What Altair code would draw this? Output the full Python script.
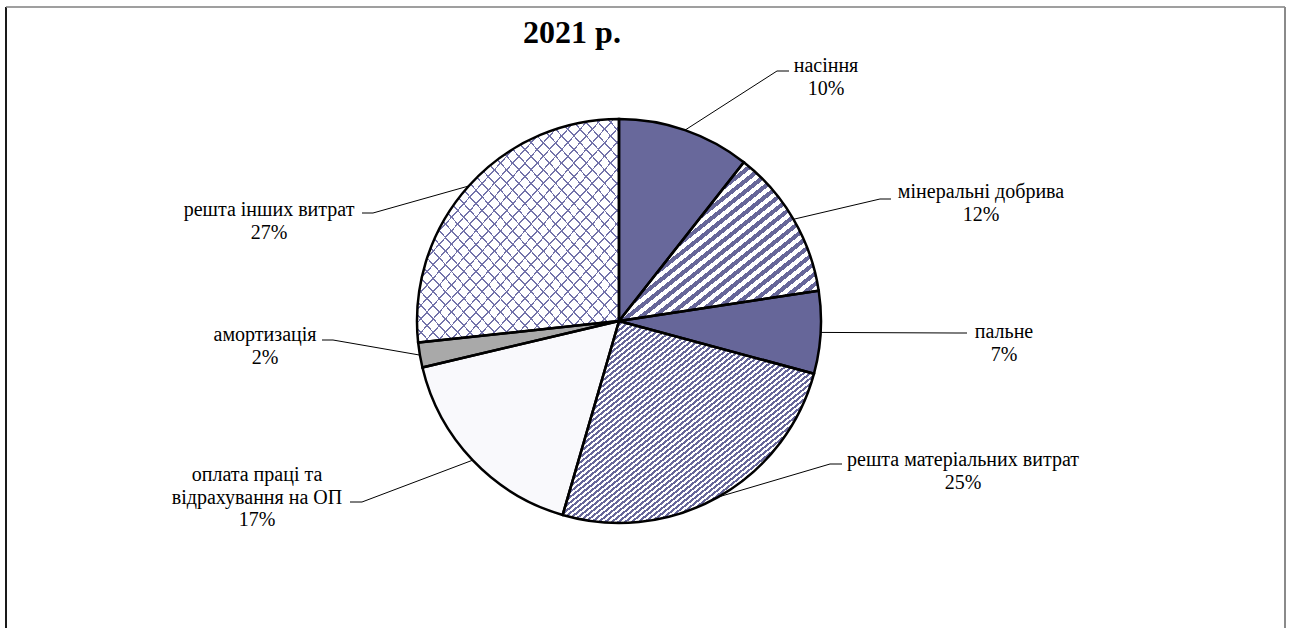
import altair as alt
import pandas as pd

# ---------------- data ----------------
TITLE = "2021 р."
CATS = [
    "насіння",
    "мінеральні добрива",
    "пальне",
    "решта матеріальних витрат",
    "оплата праці та відрахування на ОП",
    "амортизація",
    "решта інших витрат",
]
VALUES = [10.6, 12.0, 6.6, 25.3, 16.8, 2.0, 26.7]
PCT_LABELS = ["10%", "12%", "7%", "25%", "17%", "2%", "27%"]
LABEL_TEXT = [
    "насіння",
    "мінеральні добрива",
    "пальне",
    "решта матеріальних витрат",
    "оплата праці та\nвідрахування на ОП",
    "амортизація",
    "решта інших витрат",
]

# ---------------- layout ----------------
CX, CY, R = 619, 321, 202
LABEL_X = [826, 981, 1004, 963, 257, 265, 269]
LABEL_Y = [66, 192, 332, 460, 475, 335, 210]   # centre of the first text line
ELBOW_X = [777, 880, 955, 830, 362, 333, 373]
ELBOW_Y = [71, 199, 333, 464, 502, 340, 213]
STUB_X = [789, 891, 967, 842, 350, 322, 362]

FONT = "Liberation Serif"
INK = "#666699"


def stripes(n, ink, paper, duty, diag):
    if diag == "/":
        x1, y1, x2, y2 = 0, 0, 1, 1
    else:
        x1, y1, x2, y2 = 0, 1, 1, 0
    stops = []
    for k in range(n):
        a = round(k / n, 6)
        b = round((k + duty) / n, 6)
        c = round((k + 1) / n, 6)
        stops += [
            alt.GradientStop(offset=a, color=ink),
            alt.GradientStop(offset=b, color=ink),
            alt.GradientStop(offset=b, color=paper),
            alt.GradientStop(offset=c, color=paper),
        ]
    return alt.LinearGradient(gradient="linear", stops=stops, x1=x1, y1=y1, x2=x2, y2=y2)


CLEAR = "rgba(255,255,255,0)"
FILLS = [
    "#68689b",
    stripes(30, INK, "white", 0.5, "/"),
    INK,
    stripes(76, INK, "white", 0.5, "/"),
    "#f9f9fc",
    "#a9a9a9",
    stripes(33, "#7373aa", "white", 0.14, "/"),
]
OVERLAY = stripes(33, "#7373aa", CLEAR, 0.14, "\\")

df = pd.DataFrame({
    "cat": CATS,
    "value": VALUES,
    "idx": list(range(len(CATS))),
    "label": [f"{t}\n{p}" for t, p in zip(LABEL_TEXT, PCT_LABELS)],
    "lx": LABEL_X,
    "ly": LABEL_Y,
    "ex": ELBOW_X,
    "ey": ELBOW_Y,
    "sx": STUB_X,
})

base = (
    alt.Chart(df)
    .transform_window(cum="sum(value)", sort=[alt.SortField("idx")], frame=[None, 0])
    .transform_joinaggregate(total="sum(value)")
    .transform_calculate(a0="(datum.cum - datum.value) / datum.total * 2 * PI")
    .transform_calculate(a1="datum.cum / datum.total * 2 * PI")
    .transform_calculate(am="(datum.cum - datum.value / 2) / datum.total * 2 * PI")
    .transform_calculate(px=f"{CX} + {R} * sin(datum.am)")
    .transform_calculate(py=f"{CY} - {R} * cos(datum.am)")
)

arc_enc = dict(
    theta=alt.Theta("a0:Q", scale=None),
    theta2="a1:Q",
    x=alt.value(CX),
    y=alt.value(CY),
)

layers = []
for i in range(len(CATS)):
    layers.append(
        base.transform_filter(alt.datum.idx == i)
        .mark_arc(radius=R, fill=FILLS[i], strokeWidth=0)
        .encode(**arc_enc)
    )
layers.append(
    base.transform_filter(alt.datum.idx == 6)
    .mark_arc(radius=R, fill=OVERLAY, strokeWidth=0)
    .encode(**arc_enc)
)
layers.append(
    base.mark_arc(radius=R, fill="white", fillOpacity=0, stroke="black", strokeWidth=2.5)
    .encode(**arc_enc)
)

leader = base.mark_rule(color="black", strokeWidth=1).encode(
    x=alt.X("px:Q", scale=None, axis=None),
    y=alt.Y("py:Q", scale=None, axis=None),
    x2="ex:Q",
    y2="ey:Q",
)
stub = base.mark_rule(color="black", strokeWidth=1).encode(
    x=alt.X("ex:Q", scale=None, axis=None),
    y=alt.Y("ey:Q", scale=None, axis=None),
    x2="sx:Q",
    y2="ey:Q",
)
labels = base.mark_text(
    font=FONT, fontSize=20, lineBreak="\n", lineHeight=22.5,
    align="center", baseline="middle", color="black",
).encode(
    x=alt.X("lx:Q", scale=None, axis=None),
    y=alt.Y("ly:Q", scale=None, axis=None),
    text="label:N",
)

title = alt.Chart(pd.DataFrame({"t": [TITLE]})).mark_text(
    font=FONT, fontSize=32, fontWeight="bold", align="center", baseline="middle", color="black"
).encode(text="t:N", x=alt.value(572), y=alt.value(33))

one = pd.DataFrame({"k": [0]})
frame_left = alt.Chart(one).mark_rule(color="#1a1a1a", strokeWidth=2).encode(
    x=alt.value(6), x2=alt.value(6), y=alt.value(7), y2=alt.value(640))
frame_top = alt.Chart(one).mark_rule(color="#7f7f7f", strokeWidth=1.5).encode(
    x=alt.value(6), x2=alt.value(1285), y=alt.value(7), y2=alt.value(7))
frame_right = alt.Chart(one).mark_rule(color="#8a8a8a", strokeWidth=2).encode(
    x=alt.value(1285), x2=alt.value(1285), y=alt.value(7), y2=alt.value(640))

chart = (
    alt.layer(*layers, leader, stub, labels, title, frame_left, frame_top, frame_right)
    .properties(
        width=1290,
        height=628,
        padding=0,
        autosize=alt.AutoSizeParams(type="none"),
        background="white",
    )
    .configure_view(stroke=None)
)

chart.save("out.html", embed_options={"renderer": "svg", "actions": False})
